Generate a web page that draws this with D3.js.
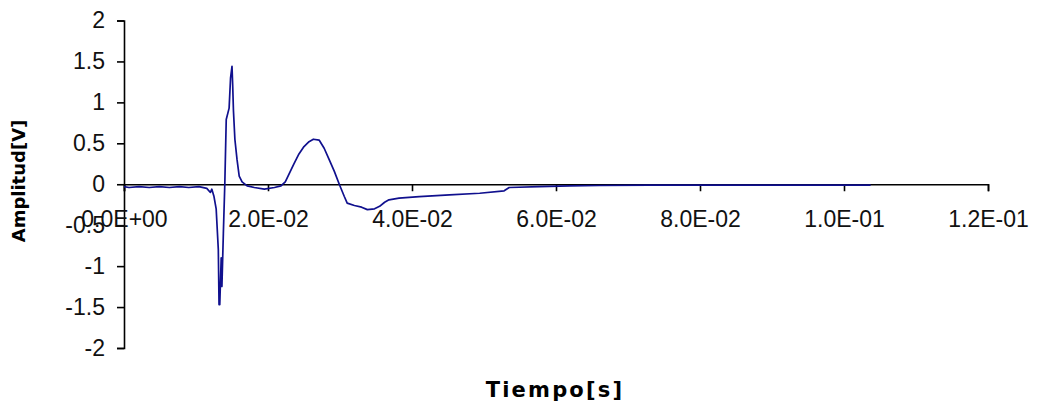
<!DOCTYPE html>
<html>
<head>
<meta charset="utf-8">
<script src="https://cdn.jsdelivr.net/npm/d3@7"></script>
<style>
  body { margin: 0; background: #fff; }
  .tick text { font-family: "Liberation Sans", Arial, sans-serif; font-size: 23px; fill: #111; }
  .axis path, .axis line { stroke: #000; stroke-width: 1.6; }
  .axisTitle { font-family: "DejaVu Sans", sans-serif; font-weight: bold; fill: #000; }
</style>
</head>
<body>
<div id="chart"></div>
<script>
// time [s] and amplitude [V]
let tiempo = [0, 0.0007, 0.0021, 0.0035, 0.0049, 0.0063, 0.0077, 0.0090, 0.0104, 0.0115,
  0.0120, 0.0122, 0.0125, 0.0128, 0.0131, 0.0132, 0.0133, 0.0135, 0.0136, 0.0138,
  0.0140, 0.0142, 0.0146, 0.0148, 0.0150, 0.0151, 0.0152, 0.0154, 0.0157, 0.0160,
  0.0164, 0.0171, 0.0181, 0.0195, 0.0209, 0.0218, 0.0224, 0.0229, 0.0236, 0.0243,
  0.0250, 0.0257, 0.0263, 0.0271, 0.0278, 0.0285, 0.0292, 0.0299, 0.0306, 0.0310,
  0.0320, 0.0330, 0.0338, 0.0348, 0.0355, 0.0362, 0.0368, 0.0382, 0.0410, 0.0452,
  0.0494, 0.0528, 0.0535, 0.0577, 0.0619, 0.0660, 0.0730, 0.0800, 0.0869, 0.0939,
  0.1008, 0.1037];
let amplitud = [-0.03, -0.04, -0.03, -0.04, -0.03, -0.04, -0.03, -0.04, -0.03, -0.05,
  -0.10, -0.06, -0.15, -0.30, -0.80, -1.47, -1.47, -0.90, -1.25, -0.60,
  0.00, 0.79, 0.93, 1.30, 1.44, 1.20, 0.90, 0.55, 0.30, 0.10,
  0.03, -0.02, -0.04, -0.06, -0.04, -0.02, 0.03, 0.12, 0.25, 0.37,
  0.46, 0.52, 0.55, 0.54, 0.44, 0.30, 0.16, 0.00, -0.15, -0.23,
  -0.26, -0.28, -0.31, -0.30, -0.27, -0.22, -0.19, -0.17, -0.15, -0.13,
  -0.11, -0.08, -0.04, -0.03, -0.02, -0.015, -0.01, -0.01, -0.01, -0.01,
  -0.01, -0.01];

let xTicks = [0, 0.02, 0.04, 0.06, 0.08, 0.10, 0.12];
let yTicks = [-2, -1.5, -1, -0.5, 0, 0.5, 1, 1.5, 2];

let svgWidth = 1039;
let svgHeight = 412;

let svg = d3.select("#chart")
    .append("svg")
    .attr("width", svgWidth)
    .attr("height", svgHeight);

let xScale = d3.scaleLinear().domain([0, 0.12]).range([124, 988]);
let yScale = d3.scaleLinear().domain([-2, 2]).range([348, 20.5]);

let data = tiempo.map((t, i) => ({ t: t, v: amplitud[i] }));

// excel style labels like 2.0E-02
function sci(v) {
    let s = v.toExponential(1).toUpperCase();
    return s.replace(/E([+-])(\d)$/, "E$10$2");
}

let yaxis = svg.append("g")
    .attr("class", "axis")
    .attr("transform", `translate(${xScale(0)},0)`)
    .call(d3.axisLeft(yScale).tickValues(yTicks).tickSize(7).tickPadding(12)
        .tickFormat(d => String(d)));

let xaxis = svg.append("g")
    .attr("class", "axis")
    .attr("transform", `translate(0,${yScale(0)})`)
    .call(d3.axisBottom(xScale).tickValues(xTicks).tickSize(7).tickPadding(19)
        .tickFormat(sci));

let line = d3.line()
    .x(d => xScale(d.t))
    .y(d => yScale(d.v));

svg.append("path")
    .datum(data)
    .attr("fill", "none")
    .attr("stroke", "#10108e")
    .attr("stroke-width", 1.7)
    .attr("stroke-linejoin", "round")
    .attr("d", line);

svg.append("text")
    .attr("class", "axisTitle")
    .attr("x", 555)
    .attr("y", 397)
    .attr("text-anchor", "middle")
    .style("font-size", "21px")
    .style("letter-spacing", "2.2px")
    .text("Tiempo[s]");

svg.append("text")
    .attr("class", "axisTitle")
    .attr("transform", "translate(25,181) rotate(-90)")
    .attr("text-anchor", "middle")
    .style("font-size", "18px")
    .text("Amplitud[V]");
</script>
</body>
</html>
